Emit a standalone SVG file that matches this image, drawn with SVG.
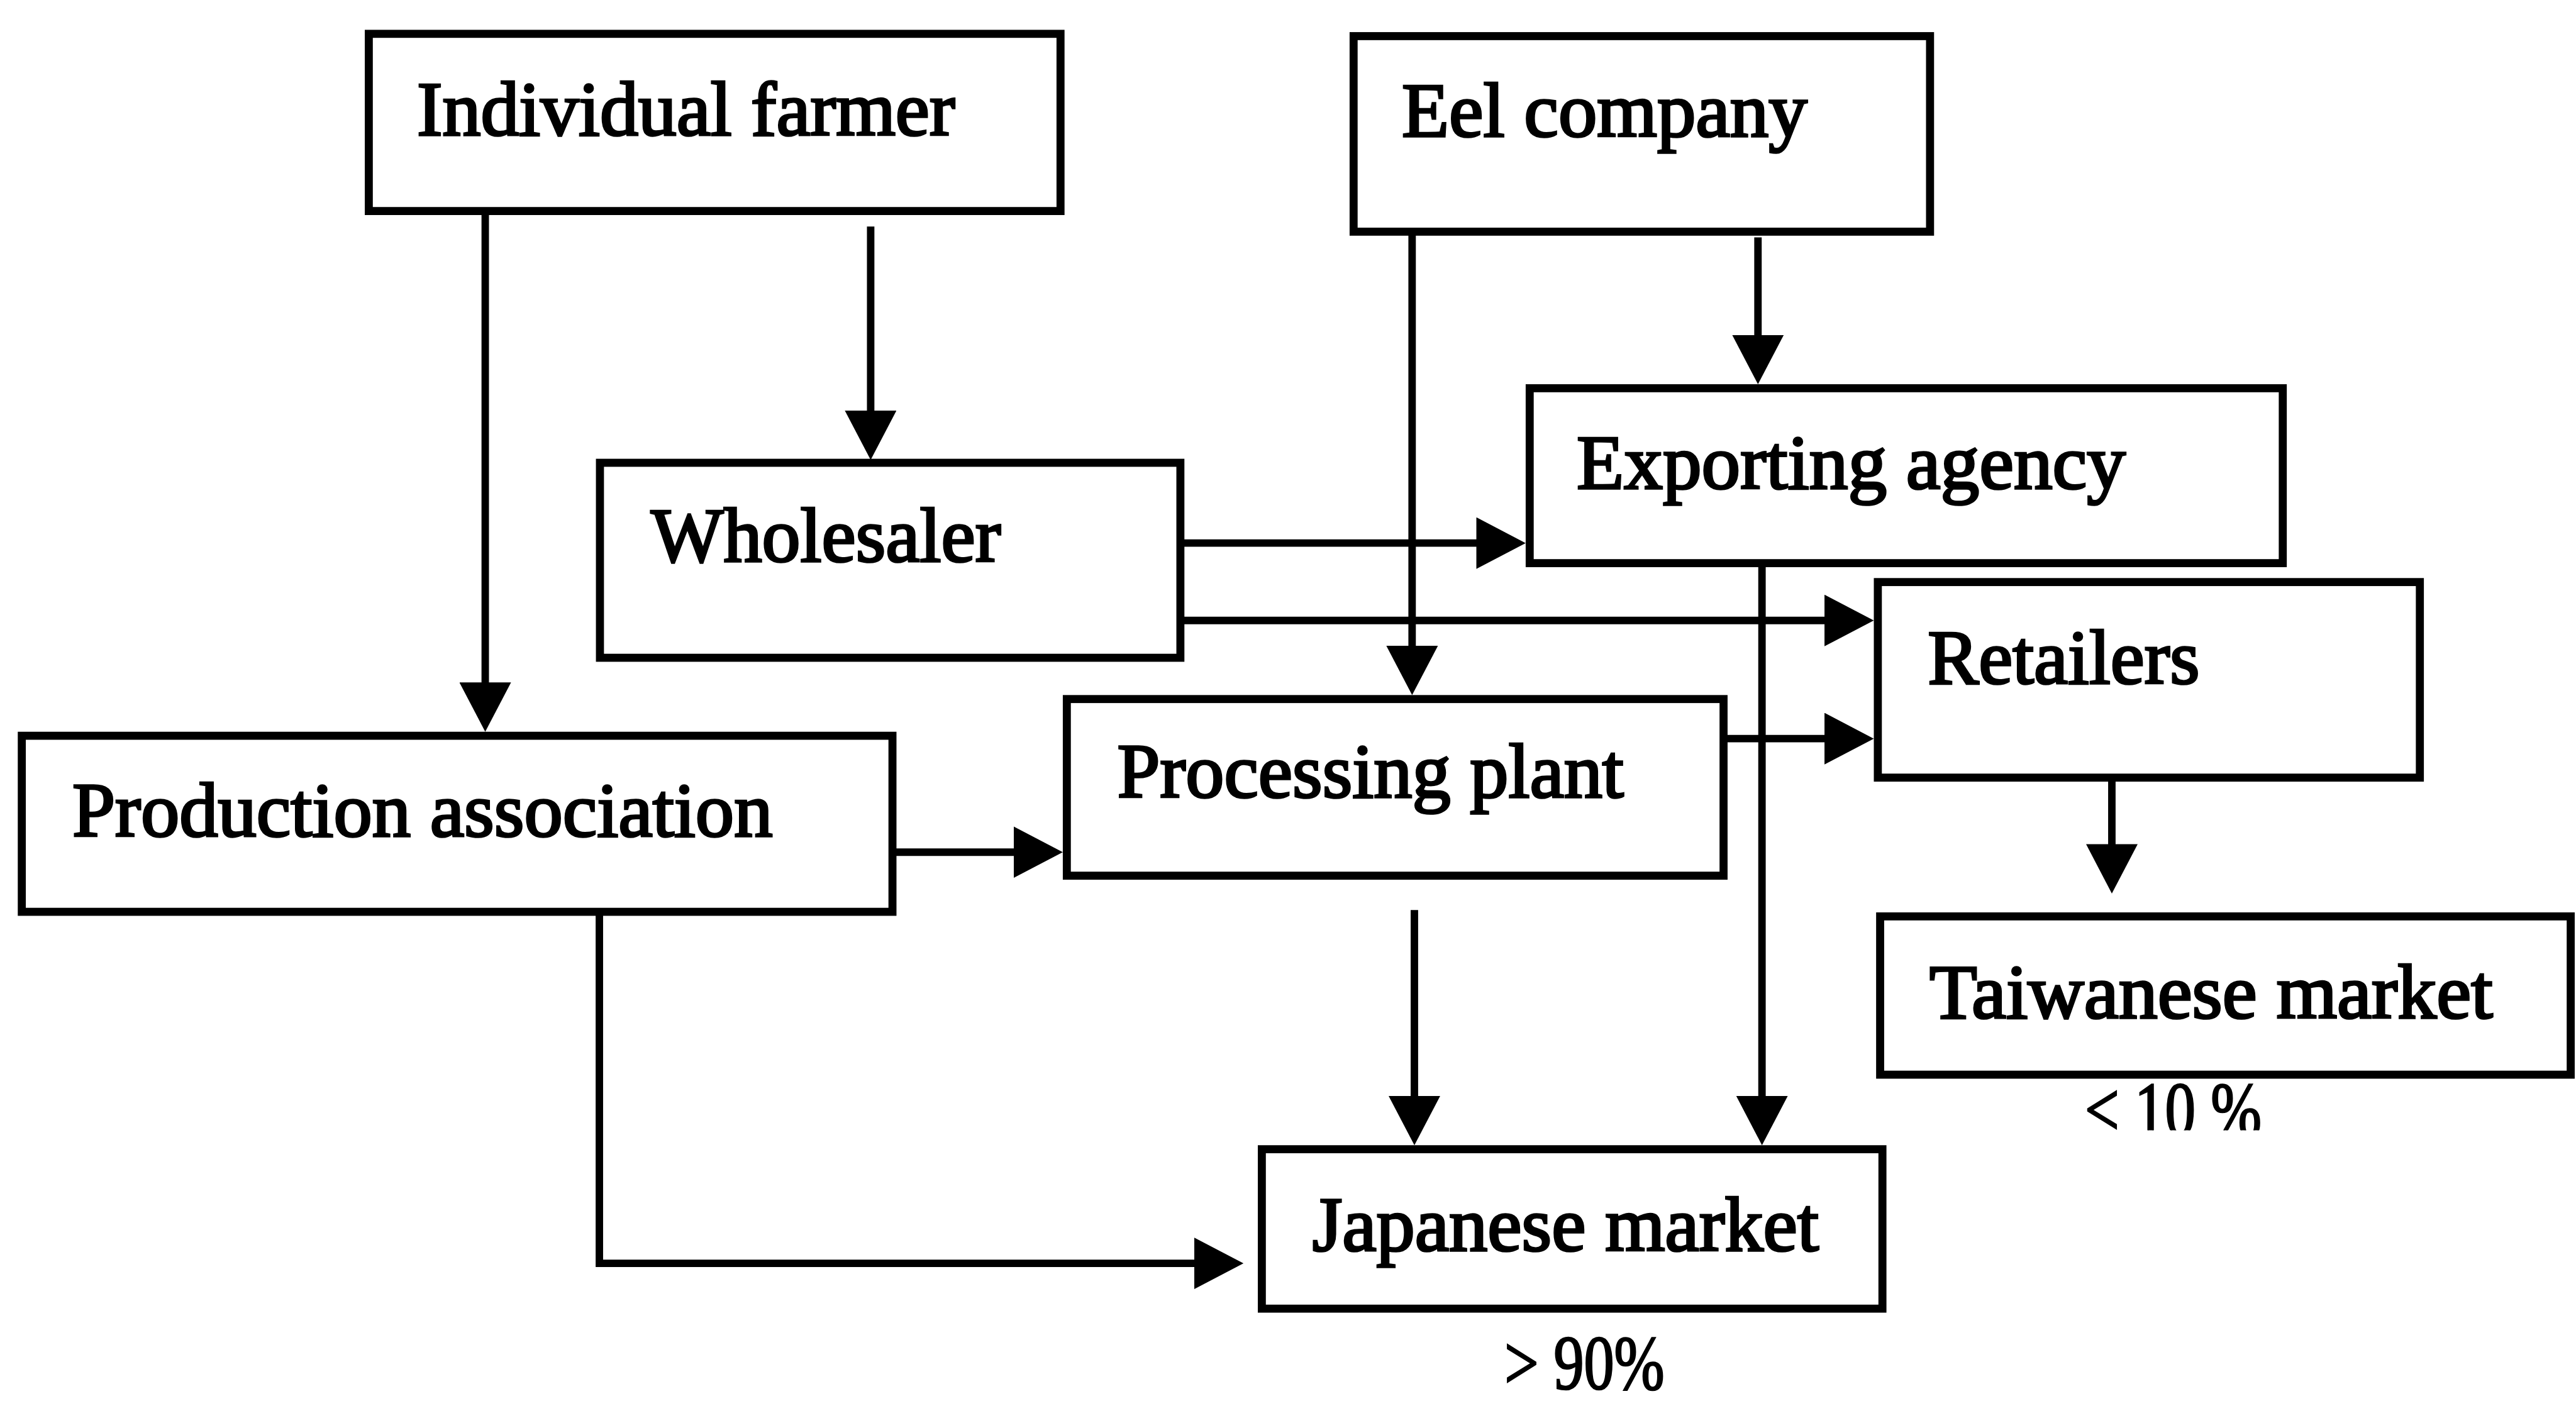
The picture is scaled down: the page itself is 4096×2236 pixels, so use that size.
<svg xmlns="http://www.w3.org/2000/svg" width="4096" height="2236" viewBox="0 0 4096 2236">
  <style>
    .box { fill: #ffffff; stroke: #000000; stroke-width: 14; }
    .label { font-family: "Liberation Serif", "Times New Roman", serif; font-size: 134px; fill: #000000; stroke: #000000; stroke-width: 4; }
    .share { font-family: "Liberation Serif", "Times New Roman", serif; font-size: 134px; fill: #000000; stroke: #000000; stroke-width: 3; }
    .link { fill: none; stroke: #000000; stroke-width: 13; }
  </style>
  <defs>
    <marker id="arrow" markerUnits="userSpaceOnUse" markerWidth="86" markerHeight="90" refX="56" refY="45" orient="auto">
      <path d="M0,0 L86,45 L0,90 Z" fill="#000000"/>
    </marker>
    <clipPath id="clip-tw">
      <rect x="3500" y="1880" width="600" height="91"/>
    </clipPath>
  </defs>
  <rect width="4096" height="2236" fill="#ffffff"/>
  <g transform="scale(0.912)">
    <!-- flows between the actors of the supply chain -->
    <g id="connectors">
      <line class="link" x1="846" y1="368" x2="846" y2="1246" marker-end="url(#arrow)"/>
      <line class="link" x1="1518" y1="395" x2="1518" y2="772" marker-end="url(#arrow)"/>
      <line class="link" x1="2462" y1="404" x2="2462" y2="1182" marker-end="url(#arrow)"/>
      <line class="link" x1="3065" y1="414" x2="3065" y2="640" marker-end="url(#arrow)"/>
      <line class="link" x1="2058" y1="947" x2="2630" y2="947" marker-end="url(#arrow)"/>
      <line class="link" x1="2058" y1="1082" x2="3237" y2="1082" marker-end="url(#arrow)"/>
      <line class="link" x1="3005" y1="1288" x2="3237" y2="1288" marker-end="url(#arrow)"/>
      <line class="link" x1="1556" y1="1486" x2="1823" y2="1486" marker-end="url(#arrow)"/>
      <line class="link" x1="3072" y1="982" x2="3072" y2="1967" marker-end="url(#arrow)"/>
      <line class="link" x1="2466" y1="1587" x2="2466" y2="1967" marker-end="url(#arrow)"/>
      <path class="link" d="M1045,1590 L1045,2203 L2138,2203" marker-end="url(#arrow)"/>
      <line class="link" x1="3682" y1="1356" x2="3682" y2="1528" marker-end="url(#arrow)"/>
    </g>

    <g id="individual-farmer">
      <rect class="box" x="643" y="59" width="1206" height="309"/>
      <text class="label" x="727" y="236" textLength="938" lengthAdjust="spacingAndGlyphs">Individual farmer</text>
    </g>
    <g id="eel-company">
      <rect class="box" x="2360" y="63" width="1005" height="341"/>
      <text class="label" x="2444" y="238" textLength="707" lengthAdjust="spacingAndGlyphs">Eel company</text>
    </g>
    <g id="exporting-agency">
      <rect class="box" x="2667" y="677" width="1313" height="305"/>
      <text class="label" x="2749" y="852" textLength="957" lengthAdjust="spacingAndGlyphs">Exporting agency</text>
    </g>
    <g id="wholesaler">
      <rect class="box" x="1046" y="807" width="1012" height="340"/>
      <text class="label" x="1135" y="979" textLength="610" lengthAdjust="spacingAndGlyphs">Wholesaler</text>
    </g>
    <g id="retailers">
      <rect class="box" x="3274" y="1015" width="945" height="341"/>
      <text class="label" x="3361" y="1192" textLength="474" lengthAdjust="spacingAndGlyphs">Retailers</text>
    </g>
    <g id="processing-plant">
      <rect class="box" x="1860" y="1219" width="1145" height="308"/>
      <text class="label" x="1948" y="1390" textLength="883" lengthAdjust="spacingAndGlyphs">Processing plant</text>
    </g>
    <g id="production-association">
      <rect class="box" x="38" y="1283" width="1518" height="307"/>
      <text class="label" x="126" y="1458" textLength="1221" lengthAdjust="spacingAndGlyphs">Production association</text>
    </g>
    <g id="taiwanese-market">
      <rect class="box" x="3278" y="1598" width="1204" height="276"/>
      <text class="label" x="3364" y="1775" textLength="982" lengthAdjust="spacingAndGlyphs">Taiwanese market</text>
      <text class="share" x="3635" y="1980" textLength="308" lengthAdjust="spacingAndGlyphs" clip-path="url(#clip-tw)">&lt; 10 %</text>
    </g>
    <g id="japanese-market">
      <rect class="box" x="2200" y="2004" width="1082" height="278"/>
      <text class="label" x="2288" y="2181" textLength="883" lengthAdjust="spacingAndGlyphs">Japanese market</text>
      <text class="share" x="2623" y="2422" font-size="122" textLength="279" lengthAdjust="spacingAndGlyphs">&gt; 90%</text>
    </g>
  </g>
</svg>
